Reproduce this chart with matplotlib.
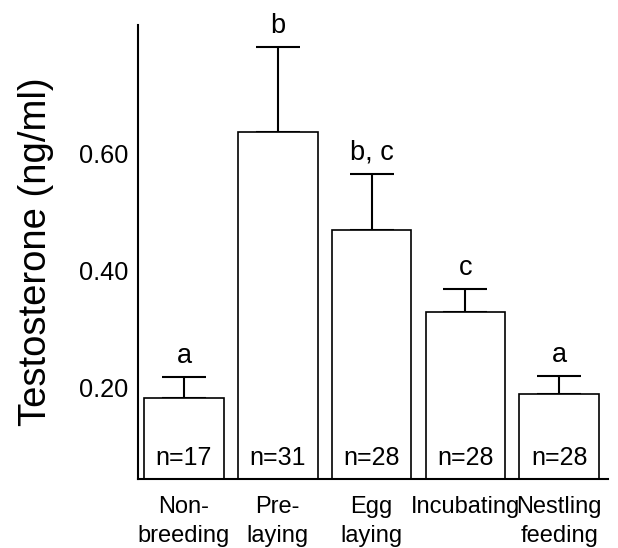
import matplotlib
matplotlib.use("Agg")
import matplotlib.pyplot as plt
import numpy as np

plt.rcParams["font.family"] = ["Liberation Sans", "DejaVu Sans"]

# Data
stages = ["Non-\nbreeding", "Pre-\nlaying", "Egg\nlaying", "Incubating", "Nestling\nfeeding"]
means = [0.181, 0.636, 0.468, 0.328, 0.189]
upper = [0.217, 0.782, 0.565, 0.368, 0.219]
letters = ["a", "b", "b, c", "c", "a"]
sizes = [17, 31, 28, 28, 28]
yticks = [0.20, 0.40, 0.60]

fig = plt.figure(figsize=(6.18, 5.48), dpi=100)
ax = fig.add_axes([0.2233, 0.1259, 0.7605, 0.8285])

x = np.arange(len(stages))
err = np.array(upper) - np.array(means)

ax.bar(x, means, width=0.85, color="white", edgecolor="black", linewidth=1.2, zorder=2)
ax.errorbar(x, means, yerr=[np.zeros_like(err), err], fmt="none", ecolor="black",
            elinewidth=1.5, capsize=15.5, capthick=1.5, zorder=1)

ax.set_ylim(0.043, 0.819)
ax.set_xlim(-0.49, 4.52)

for xi, top, lab in zip(x, upper, letters):
    ax.annotate(lab, (xi, top), xytext=(0, 10), textcoords="offset points",
                ha="center", va="baseline", fontsize=19.5)

for xi, n in zip(x, sizes):
    ax.annotate(f"n={n}", (xi, 0.043), xytext=(0, 6.5), textcoords="offset points",
                ha="center", va="bottom", fontsize=18)

ax.set_yticks(yticks)
ax.set_yticklabels([f"{v:.2f}" for v in yticks], fontsize=18.3)
ax.set_xticks(x)
ax.set_xticklabels(stages, fontsize=17, linespacing=1.45)
ax.tick_params(axis="y", length=0, pad=7)
ax.tick_params(axis="x", length=0, pad=12)

ax.set_ylabel("Testosterone (ng/ml)", fontsize=27.5, labelpad=18)

for side in ["top", "right"]:
    ax.spines[side].set_visible(False)
for side in ["left", "bottom"]:
    ax.spines[side].set_linewidth(1.5)

fig.savefig("out.png", dpi=100)
